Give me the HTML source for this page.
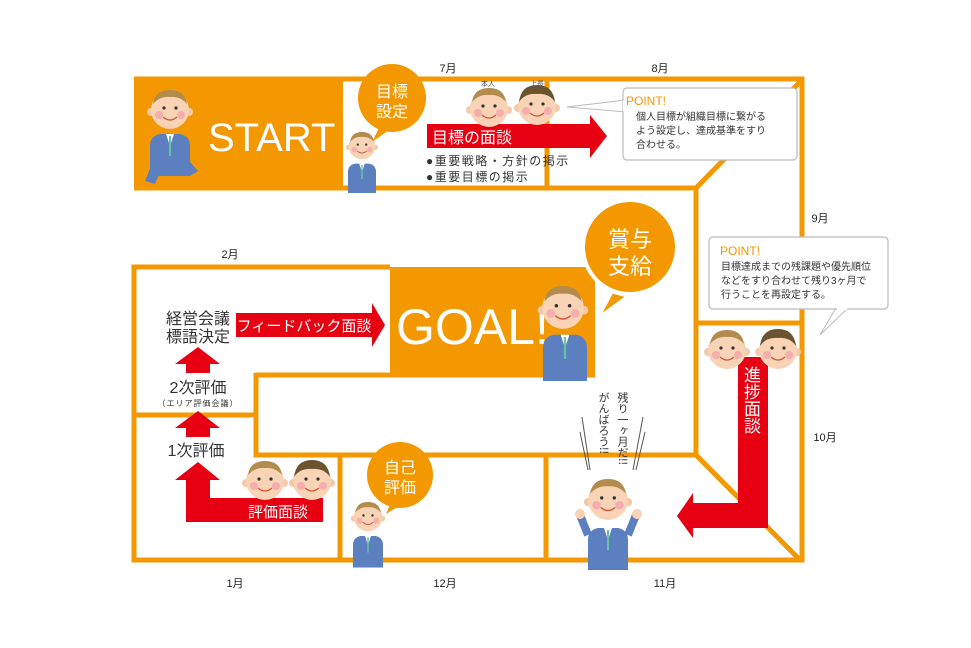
<!DOCTYPE html>
<html><head><meta charset="utf-8"><style>
body{margin:0;background:#fff;}
#w{position:relative;width:971px;height:648px;overflow:hidden;font-family:"Liberation Sans","Noto Sans CJK JP",sans-serif;}
.v{position:absolute;writing-mode:vertical-rl;font-family:"Noto Sans CJK JP",sans-serif;line-height:1;}
</style></head><body><div id="w">
<svg width="971" height="648" viewBox="0 0 971 648" xmlns="http://www.w3.org/2000/svg" style="position:absolute;left:0;top:0">
<defs>
<g id="face">
 <circle cx="-19" cy="2" r="4" fill="#f5c9a8"/><circle cx="19" cy="2" r="4" fill="#f5c9a8"/>
 <circle cx="0" cy="0" r="19" fill="#f8d3b5"/>
 <path d="M-17,-6 Q-15,-20 0,-20 Q15,-20 17,-6 Q10,-14 0,-13 Q-10,-14 -17,-6Z" fill="#b38b4d"/>
 <circle cx="-6" cy="-2" r="1.6" fill="#333"/><circle cx="6" cy="-2" r="1.6" fill="#333"/>
 <circle cx="-11" cy="5" r="4" fill="#f39cab" opacity=".7"/><circle cx="11" cy="5" r="4" fill="#f39cab" opacity=".7"/>
 <path d="M-7,7 Q0,13 7,7" stroke="#d4583f" stroke-width="1.3" fill="none"/>
</g>
<g id="face2">
 <circle cx="-19" cy="2" r="4" fill="#f5c9a8"/><circle cx="19" cy="2" r="4" fill="#f5c9a8"/>
 <circle cx="0" cy="0" r="19" fill="#f8d3b5"/>
 <path d="M-18,-4 Q-16,-21 0,-21 Q16,-21 18,-4 Q12,-13 0,-12 Q-12,-13 -18,-4Z" fill="#6b5330"/>
 <circle cx="-6" cy="-2" r="1.6" fill="#333"/><circle cx="6" cy="-2" r="1.6" fill="#333"/>
 <circle cx="-11" cy="5" r="4" fill="#f39cab" opacity=".7"/><circle cx="11" cy="5" r="4" fill="#f39cab" opacity=".7"/>
 <path d="M-7,7 Q0,13 7,7" stroke="#d4583f" stroke-width="1.3" fill="none"/>
</g>
<g id="body">
 <path d="M-20,0 Q-20,-10 -10,-12 L10,-12 Q20,-10 20,0 L20,30 L-20,30Z" fill="#5b7fbf"/>
 <path d="M-4,-12 L0,0 L4,-12Z" fill="#fff"/><path d="M-1,-10 L1,-10 L1,10 L-1,10Z" fill="#66c2a5"/>
</g>
</defs>

<g fill="none" stroke="#f39800" stroke-width="5" stroke-linejoin="miter">
 <path d="M134,79 L802,79 L802,560 L134,560 L134,267 L390,267"/>
 <path d="M134,188 L696,188 L800,82"/>
 <path d="M696,188 L696,455 L800,560"/>
 <path d="M696,323 L800,323"/>
 <path d="M547,80 L547,188"/>
 <path d="M134,415 L256,415"/>
 <path d="M256,373 L256,455 L696,455"/>
 <path d="M256,375 L595,375"/>
 <path d="M340,455 L340,560"/>
 <path d="M546,455 L546,560"/>
</g>
<rect x="134" y="79" width="209" height="110" fill="#f39800"/>
<rect x="390" y="267" width="205" height="110" fill="#f39800"/>

<text x="208" y="151" font-size="40" fill="#fff" font-family="Liberation Sans">START</text>
<g transform="translate(170,146)"><path d="M-15,10 L-25,35 L-15,38 L-5,15Z M5,15 L20,30 L28,25 L15,10Z" fill="#5b7fbf"/><use href="#body"/></g>
<use href="#face" transform="translate(170,110)"/>
<text x="448" y="72" font-size="11" text-anchor="middle" fill="#222">7月</text>
<text x="660" y="72" font-size="11" text-anchor="middle" fill="#222">8月</text>
<text x="820" y="222" font-size="11" text-anchor="middle" fill="#222">9月</text>
<text x="230" y="258" font-size="11" text-anchor="middle" fill="#222">2月</text>
<text x="825" y="441" font-size="11" text-anchor="middle" fill="#222">10月</text>
<text x="235" y="587" font-size="11" text-anchor="middle" fill="#222">1月</text>
<text x="445" y="587" font-size="11" text-anchor="middle" fill="#222">12月</text>
<text x="665" y="587" font-size="11" text-anchor="middle" fill="#222">11月</text>

<path d="M380,126 L372,142 L392,128Z" fill="#f39800"/>
<circle cx="392" cy="98" r="34" fill="#f39800"/>
<text x="392" y="97" font-size="16" fill="#fff" text-anchor="middle">目標</text>
<text x="392" y="117" font-size="16" fill="#fff" text-anchor="middle">設定</text>
<g transform="translate(362,172)"><use href="#body" transform="scale(.7)"/></g>
<use href="#face" transform="translate(362,146) scale(.7)"/>
<path d="M427,124 L590,124 L590,115 L607,136 L590,158 L590,148 L427,148Z" fill="#e60012"/>
<text x="432" y="143" font-size="16" fill="#fff">目標の面談</text>
<text x="426" y="165" font-size="12" fill="#333" letter-spacing="1.5">●重要戦略・方針の掲示</text>
<text x="426" y="181" font-size="12" fill="#333" letter-spacing="1.5">●重要目標の掲示</text>
<use href="#face" transform="translate(489,108)"/>
<use href="#face2" transform="translate(537,106)"/>
<text x="488" y="86" font-size="7" fill="#555" text-anchor="middle">本人</text>
<text x="537" y="86" font-size="7" fill="#555" text-anchor="middle">上長</text>
<path d="M567,107 L626,100 L626,112Z" fill="#fff" stroke="#bbb"/>
<rect x="623" y="88" width="174" height="72" rx="4" fill="#fff" stroke="#bbb" stroke-width="1.2"/>
<path d="M624,101 L624,111" stroke="#fff" stroke-width="2"/>
<text x="626" y="105" font-size="12" fill="#f39800">POINT!</text>
<text x="636" y="120" font-size="10" fill="#333">個人目標が組織目標に繋がる</text>
<text x="636" y="134" font-size="10" fill="#333">よう設定し、達成基準をすり</text>
<text x="636" y="148" font-size="10" fill="#333">合わせる。</text>
<path d="M820,335 L836,308 L848,308Z" fill="#fff" stroke="#bbb"/>
<rect x="709" y="237" width="179" height="72" rx="4" fill="#fff" stroke="#bbb" stroke-width="1.2"/>
<path d="M837,309 L847,309" stroke="#fff" stroke-width="2"/>
<text x="720" y="255" font-size="12" fill="#f39800">POINT!</text>
<text x="721" y="270" font-size="10" fill="#333">目標達成までの残課題や優先順位</text>
<text x="721" y="284" font-size="10" fill="#333">などをすり合わせて残り3ヶ月で</text>
<text x="721" y="298" font-size="10" fill="#333">行うことを再設定する。</text>

<text x="396" y="344" font-size="50" fill="#fff" font-family="Liberation Sans">GOAL!</text>
<g transform="translate(565,348)"><use href="#body" transform="scale(1.1)"/></g>
<use href="#face" transform="translate(563,308) scale(1.1)"/>
<path d="M612,292 L598,318 L628,296Z" fill="#f39800" stroke="#fff" stroke-width="3"/>
<circle cx="630" cy="247" r="47" fill="#f39800" stroke="#fff" stroke-width="4"/>
<text x="630" y="247" font-size="22" fill="#fff" text-anchor="middle">賞与</text>
<text x="630" y="274" font-size="22" fill="#fff" text-anchor="middle">支給</text>

<text x="198" y="324" font-size="16" fill="#333" text-anchor="middle">経営会議</text>
<text x="198" y="342" font-size="16" fill="#333" text-anchor="middle">標語決定</text>
<path d="M236,313 L372,313 L372,303 L385,325 L372,347 L372,337 L236,337Z" fill="#e60012"/>
<text x="304" y="331" font-size="15" fill="#fff" text-anchor="middle">フィードバック面談</text>
<path d="M175,364 L198,347 L220,364 L210,364 L210,373 L186,373 L186,364Z" fill="#e60012"/>
<text x="198" y="393" font-size="16" fill="#333" text-anchor="middle">2次評価</text>
<text x="198" y="406" font-size="8" fill="#333" text-anchor="middle" letter-spacing="1">（エリア評価会議）</text>
<path d="M175,428 L198,411 L220,428 L210,428 L210,437 L186,437 L186,428Z" fill="#e60012"/>
<text x="196" y="456" font-size="16" fill="#333" text-anchor="middle">1次評価</text>
<path d="M175,480 L198,462 L220,480 L210,480 L210,498 L323,498 L323,522 L186,522 L186,480Z" fill="#e60012"/>
<text x="278" y="517" font-size="15" fill="#fff" text-anchor="middle">評価面談</text>
<use href="#face" transform="translate(265,481)"/>
<use href="#face2" transform="translate(312,481)"/>

<path d="M392,500 L386,514 L404,503Z" fill="#f39800"/>
<circle cx="400" cy="475" r="33" fill="#f39800"/>
<text x="400" y="473" font-size="16" fill="#fff" text-anchor="middle">自己</text>
<text x="400" y="493" font-size="16" fill="#fff" text-anchor="middle">評価</text>
<g transform="translate(368,545)"><use href="#body" transform="scale(.75)"/></g>
<use href="#face" transform="translate(368,517) scale(.75)"/>

<g transform="translate(608,540)"><use href="#body"/></g>
<path d="M588,535 L580,515 M628,535 L636,515" stroke="#5b7fbf" stroke-width="8"/>
<circle cx="580" cy="514" r="5" fill="#f8d3b5"/><circle cx="637" cy="514" r="5" fill="#f8d3b5"/>
<use href="#face" transform="translate(608,500) scale(1.05)"/>
<g stroke="#555" stroke-width="1"><path d="M582,417 L590,470 M580,432 L588,470 M643,417 L633,470 M645,432 L636,470"/></g>

<path d="M738,357 L768,357 L768,528 L693,528 L693,538 L677,516 L693,493 L693,503 L738,503Z" fill="#e60012"/>
<use href="#face" transform="translate(727,350)"/>
<use href="#face2" transform="translate(778,350)"/>
</svg>
<div class="v" style="left:744px;top:366px;font-size:17px;color:#fff;">進捗面談</div>
<div class="v" style="left:617px;top:392px;font-size:11px;color:#333;">残り一ヶ月だ!!</div>
<div class="v" style="left:598px;top:392px;font-size:11px;color:#333;">がんばろう!!</div>
</div></body></html>
